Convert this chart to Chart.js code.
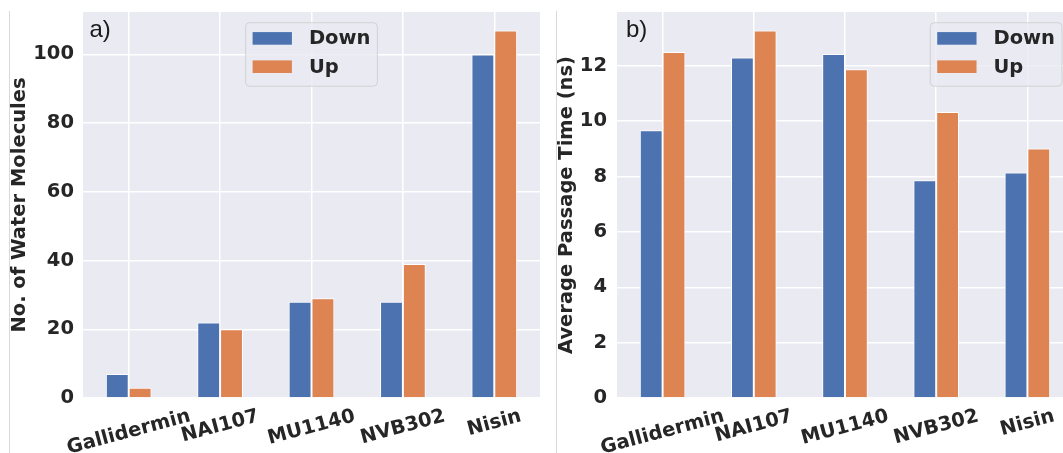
<!DOCTYPE html>
<html>
<head>
<meta charset="utf-8">
<script src="https://cdn.jsdelivr.net/npm/chart.js@4"></script>
<style>
  html, body { margin: 0; padding: 0; background: #ffffff; }
  body { width: 1063px; height: 453px; overflow: hidden; position: relative; }
  canvas { position: absolute; top: 0; }
  .edge { position: absolute; top: 11px; width: 1px; height: 442px; background: #d9d9d9; }
</style>
</head>
<body>
<div class="edge" style="left:9px"></div>
<div class="edge" style="left:556px"></div>
<canvas id="water" width="540" height="453" style="left:0"></canvas>
<canvas id="passage" width="533" height="453" style="left:540px"></canvas>
<script>
// Lantibiotics compared in both panels
const categories = ['Gallidermin', 'NAI107', 'MU1140', 'NVB302', 'Nisin'];
const seriesNames = ['Down', 'Up'];

// a) number of water molecules crossing the membrane
const waterDown = [7, 22, 28, 28, 100];
const waterUp = [3, 20, 29, 39, 107];
const waterTickStep = 20;

// b) average passage time in ns
const passageDown = [9.67, 12.30, 12.43, 7.87, 8.15];
const passageUp = [12.50, 13.28, 11.88, 10.33, 9.01];
const passageTickStep = 2;

const BLUE = '#4C72B0';
const ORANGE = '#DD8452';
const TEXT = '#262626';
const FAMILY = '"DejaVu Sans", sans-serif';
const SIZE = 19.5;
const BOLD = 'bold ' + SIZE + 'px ' + FAMILY;

// seaborn-like grey panel behind the bars
const panelBackground = {
  id: 'panelBackground',
  beforeDraw(chart) {
    const { ctx, chartArea: a } = chart;
    ctx.save();
    ctx.fillStyle = '#EAEAF2';
    ctx.fillRect(a.left, a.top, a.right - a.left, a.bottom - a.top);
    ctx.restore();
  }
};

// category labels, rotated and centred under each tick
const slantedLabels = {
  id: 'slantedLabels',
  afterDraw(chart, args, opts) {
    const { ctx } = chart;
    const xs = chart.scales.x;
    const ang = opts.angle * Math.PI / 180;
    ctx.save();
    ctx.font = BOLD;
    ctx.fillStyle = TEXT;
    ctx.textAlign = 'center';
    ctx.textBaseline = 'middle';
    chart.data.labels.forEach((lab, i) => {
      const w = ctx.measureText(lab).width;
      const h = SIZE * 1.17;
      const boxH = w * Math.sin(ang) + h * Math.cos(ang);
      const cx = xs.getPixelForValue(i);
      const cy = chart.chartArea.bottom + opts.pad + boxH / 2;
      ctx.save();
      ctx.translate(cx, cy);
      ctx.rotate(-ang);
      ctx.fillText(lab, 0, 0);
      ctx.restore();
    });
    ctx.restore();
  }
};

// legend drawn inside the plotting area
const innerLegend = {
  id: 'innerLegend',
  afterDraw(chart, args, opts) {
    const { ctx, chartArea: a } = chart;
    ctx.save();
    ctx.font = BOLD;
    const sets = chart.data.datasets;
    const textW = Math.max(...sets.map(d => ctx.measureText(d.label).width));
    const w = 63.3 + textW + 7;
    const h = 63.5;
    const x = opts.where === 'center' ? (a.left + a.right) / 2 - w / 2 : a.right - 11 - w;
    const y = a.top + 10.7;
    ctx.beginPath();
    ctx.roundRect(x, y, w, h, 4);
    ctx.fillStyle = 'rgba(234,234,242,0.8)';
    ctx.fill();
    ctx.lineWidth = 1;
    ctx.strokeStyle = 'rgba(204,204,204,0.8)';
    ctx.stroke();
    sets.forEach((d, i) => {
      const cy = y + 15.7 + i * 28.3;
      ctx.fillStyle = d.backgroundColor;
      ctx.fillRect(x + 7, cy - 6.3, 39.3, 12.6);
      ctx.fillStyle = TEXT;
      ctx.textAlign = 'left';
      ctx.textBaseline = 'middle';
      ctx.fillText(d.label, x + 63.3, cy + 1);
    });
    ctx.restore();
  }
};

// panel letter in the top-left corner
const panelTag = {
  id: 'panelTag',
  afterDraw(chart, args, opts) {
    const { ctx, chartArea: a } = chart;
    ctx.save();
    ctx.font = '24px "Liberation Sans", Arial, sans-serif';
    ctx.fillStyle = '#1a1a1a';
    ctx.textAlign = 'left';
    ctx.textBaseline = 'alphabetic';
    ctx.fillText(opts.text, a.left + opts.dx, 36.5);
    ctx.restore();
  }
};

function makePanel(id, down, up, step, cfg) {
  const top = Math.max(...down, ...up) * 1.05;
  return new Chart(document.getElementById(id), {
    type: 'bar',
    data: {
      labels: categories,
      datasets: [
        { label: seriesNames[0], data: down, backgroundColor: BLUE },
        { label: seriesNames[1], data: up, backgroundColor: ORANGE }
      ]
    },
    options: {
      responsive: false,
      animation: false,
      events: [],
      layout: { padding: { top: 12, left: 0, right: 0, bottom: 0 } },
      datasets: {
        bar: {
          categoryPercentage: 0.5,
          barPercentage: 1.0,
          borderColor: '#ffffff',
          borderWidth: 1,
          borderSkipped: 'start'
        }
      },
      scales: {
        x: {
          offset: true,
          grid: { display: true, offset: false, color: '#ffffff', lineWidth: 1.5, drawTicks: false },
          border: { display: false },
          ticks: { display: false },
          afterFit(s) { s.height = 55; s.paddingLeft = 0; s.paddingRight = 0; }
        },
        y: {
          min: 0,
          max: top,
          grid: { color: '#ffffff', lineWidth: 1.5, drawTicks: false },
          border: { display: false },
          ticks: {
            stepSize: step,
            includeBounds: false,
            padding: cfg.tickPad,
            color: TEXT,
            font: { family: FAMILY, size: SIZE, weight: 'bold' }
          },
          title: {
            display: true,
            text: cfg.title,
            color: TEXT,
            font: { family: FAMILY, size: SIZE, weight: 'bold', lineHeight: 1 },
            padding: { top: cfg.titlePad, bottom: 0 }
          },
          afterFit(s) { s.width = cfg.axisWidth; s.paddingTop = 0; s.paddingBottom = 0; }
        }
      },
      plugins: {
        legend: { display: false },
        tooltip: { enabled: false },
        slantedLabels: { angle: 15, pad: 7 },
        innerLegend: { where: cfg.legend },
        panelTag: { text: cfg.tag, dx: cfg.tagDx }
      }
    },
    plugins: [panelBackground, slantedLabels, innerLegend, panelTag]
  });
}

makePanel('water', waterDown, waterUp, waterTickStep, {
  title: 'No. of Water Molecules', axisWidth: 83, titlePad: 10, tickPad: 9,
  legend: 'center', tag: 'a)', tagDx: 6.5
});
makePanel('passage', passageDown, passageUp, passageTickStep, {
  title: 'Average Passage Time (ns)', axisWidth: 77, titlePad: 17.25, tickPad: 10,
  legend: 'right', tag: 'b)', tagDx: 9
});
</script>
</body>
</html>
